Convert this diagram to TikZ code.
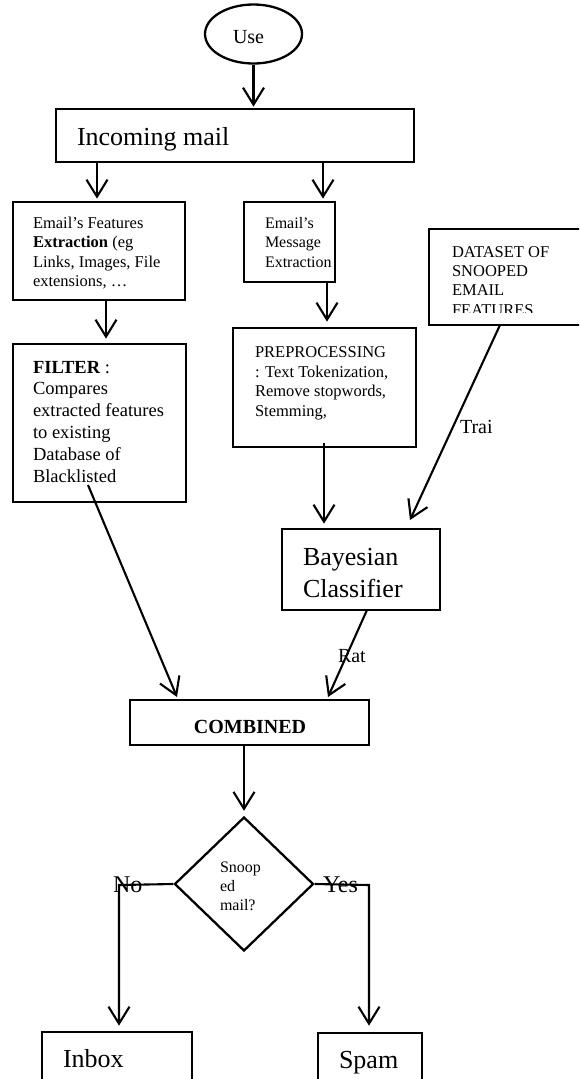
\documentclass[tikz,border=0pt]{standalone}
\usepackage{fontspec}
\setmainfont{Liberation Serif}
\usetikzlibrary{arrows.meta,shapes.geometric}
\tikzset{
  box/.style={draw, rectangle, line width=2.7pt, inner sep=0pt},
  arr/.style={line width=2.1pt, -{Straight Barb[length=17pt,width=21pt,line width=2.1pt]}},
  txt/.style={anchor=base west, inner sep=0pt, outer sep=0pt},
  fA/.style={font=\fontsize{16.5}{19}\selectfont},
  fM/.style={font=\fontsize{16}{19}\selectfont},
  fB/.style={font=\fontsize{18.5}{21}\selectfont},
  fBig/.style={font=\fontsize{26}{30}\selectfont},
  fLab/.style={font=\fontsize{20}{24}\selectfont},
  fYN/.style={font=\fontsize{24}{28}\selectfont},
}
\begin{document}
\begin{tikzpicture}[x=1pt,y=-1pt]
\useasboundingbox (0,0) rectangle (579,1079);
\clip (0,0) rectangle (579,1079);

% Use ellipse
\node[ellipse, draw, line width=2.3pt, minimum width=97pt, minimum height=59pt, inner sep=0pt] (use) at (253.5,34) {};
\node[txt, font=\fontsize{20}{24}\selectfont] (uset) at (233,43) {Use};

% boxes
\node[box, minimum width=358pt, minimum height=53pt] (inc) at (235,135.5) {};
\node[txt, fBig] (inct) at (77,145) {Incoming mail};

\node[box, minimum width=172pt, minimum height=98pt] (feat) at (99,251) {};
\node[txt, fA] (f1) at (33,228) {Email’s Features};
\node[txt, fA] (f2) at (33,247) {\textbf{Extraction} (eg};
\node[txt, fA] (f3) at (33,267) {Links, Images, File};
\node[txt, fA] (f4) at (33,286) {extensions, …};

\node[box, minimum width=91pt, minimum height=80pt] (msg) at (289.5,242) {};
\node[txt, fM] (m1) at (265,228) {Email’s};
\node[txt, fM] (m2) at (265,247) {Message};
\node[txt, fM] (m3) at (265,267) {Extraction};

\node[box, minimum width=161pt, minimum height=96pt] (data) at (509.5,277) {};
\begin{scope}
\clip (429,229) rectangle (579,312.5);
\node[txt, fA] (d1) at (452,257) {DATASET OF};
\node[txt, fA] (d2) at (452,276) {SNOOPED};
\node[txt, fA] (d3) at (452,295) {EMAIL};
\node[txt, fA] (d4) at (452,315) {FEATURES};
\end{scope}

\node[box, minimum width=173pt, minimum height=158pt] (filt) at (99.5,423) {};
\node[txt, fB] (g1) at (33,373) {\textbf{FILTER} :};
\node[txt, fB] (g2) at (33,394.8) {Compares};
\node[txt, fB] (g3) at (33,416.6) {extracted features};
\node[txt, fB] (g4) at (33,438.4) {to existing};
\node[txt, fB] (g5) at (33,460.2) {Database of};
\node[txt, fB] (g6) at (33,482) {Blacklisted};

\node[box, minimum width=183pt, minimum height=119pt] (pre) at (324.5,387.5) {};
\node[txt, fA] (p1) at (255,357) {PREPROCESSING};
\node[txt, fA] (p2) at (255,377) {: Text Tokenization,};
\node[txt, fA] (p3) at (255,396) {Remove stopwords,};
\node[txt, fA] (p4) at (255,416) {Stemming,};

\node[box, minimum width=158pt, minimum height=81pt] (bay) at (361,569.5) {};
\node[txt, fBig] (b1) at (303,565) {Bayesian};
\node[txt, fBig] (b2) at (303,597) {Classifier};

\node[box, minimum width=239pt, minimum height=45pt] (comb) at (249.5,722.5) {};
\node[anchor=base, inner sep=0pt, font=\bfseries\fontsize{20}{24}\selectfont] (combt) at (250,733) {COMBINED};

\node[diamond, draw, line width=2.3pt, minimum width=139pt, minimum height=134pt, inner sep=0pt, aspect=1.04] (dia) at (244,884) {};
\node[txt, font=\fontsize{16}{19}\selectfont] (s1) at (220,872) {Snoop};
\node[txt, font=\fontsize{16}{19}\selectfont] (s2) at (220,891) {ed};
\node[txt, font=\fontsize{16}{19}\selectfont] (s3) at (220,910) {mail?};

\node[box, minimum width=150pt, minimum height=68pt] (inbox) at (117,1066) {};
\node[txt, fBig] (it) at (63,1067) {Inbox};
\node[box, minimum width=104pt, minimum height=67pt] (spam) at (370,1066.5) {};
\node[txt, fBig] (st) at (339,1068) {Spam};

% connector end points
\coordinate (c1) at (97,162);
\coordinate (c2) at (323,162);
\coordinate (c3) at (106,300);
\coordinate (c4) at (327,282);
\coordinate (c5) at (324,443);
\coordinate (c6) at (500,325);
\coordinate (c6e) at (410,520);
\coordinate (c7) at (88,485);
\coordinate (c7e) at (177,697);
\coordinate (c8) at (367,610);
\coordinate (c8e) at (328,697);
\coordinate (nk) at (119,885);
\coordinate (yk) at (369,885);

% connectors
\draw[arr] (use.south) -- ([yshift=1pt]use.south |- inc.north);
\draw[arr] (c1) -- ([yshift=2pt]c1 |- feat.north);
\draw[arr] (c2) -- ([yshift=2pt]c2 |- msg.north);
\draw[arr] (c3) -- ([yshift=4pt]c3 |- filt.north);
\draw[arr] (c4) -- ([yshift=5pt]c4 |- pre.north);
\draw[arr] (c5) -- ([yshift=4pt]c5 |- bay.north);
\draw[arr] (c6) -- (c6e);
\draw[arr] (c7) -- (c7e);
\draw[arr] (c8) -- (c8e);
\draw[arr] (comb.south -| dia.north) -- ([yshift=5pt]dia.north);
\draw[arr] (dia.west) -- (nk) -- ([yshift=5pt]nk |- inbox.north);
\draw[arr] (dia.east) -- (yk) -- ([yshift=6pt]yk |- spam.north);

% labels
\node[txt, fLab] (trai) at (460,433) {Trai};
\node[txt, fLab] (rat) at (338,662) {Rat};
\node[txt, fYN] (no) at (113,892) {No};
\node[txt, fYN] (yes) at (323,892) {Yes};
\end{tikzpicture}
\end{document}
